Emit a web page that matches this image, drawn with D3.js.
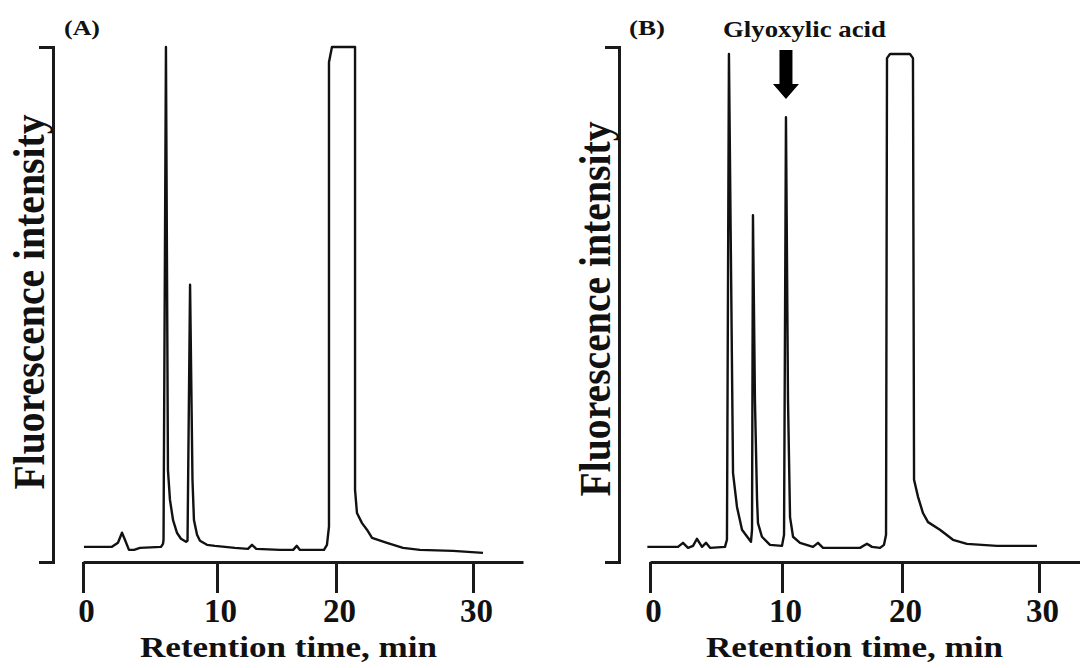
<!DOCTYPE html>
<html><head><meta charset="utf-8">
<script src="https://cdn.jsdelivr.net/npm/d3@7/dist/d3.min.js"></script>
<style>
body{margin:0;background:#fff}
svg{display:block}
text{font-family:"Liberation Serif","Times New Roman",serif;font-weight:bold;fill:#111}
</style>
</head><body>
<svg id="chart" width="1080" height="668"></svg>
<script>
// ---- data ----
const tickLabels = [0, 10, 20, 30];
const panelLabels = ["(A)", "(B)"];
const xTitle = "Retention time, min";
const yTitle = "Fluorescence intensity";
const annotation = "Glyoxylic acid";
const glyoxylicTime = 10.33;

const timeA = [0.07, 2.16, 2.61, 2.91, 3.13, 3.43, 3.81, 4.25, 5.82, 5.97, 6.01, 6.19, 6.34, 6.49, 6.72, 7.01, 7.31, 7.69, 7.80, 7.99, 8.17, 8.28, 8.51, 8.73, 9.25, 9.85, 11.5, 12.6, 12.94, 13.3, 15.3, 16.4, 16.7, 16.97, 18.99, 19.24, 19.41, 19.41, 19.66, 21.39, 21.39, 21.53, 21.9, 22.26, 22.63, 23.72, 24.89, 26.13, 28.54, 30.73];
const intensityA = [1.0, 1.0, 1.8, 3.8, 2.4, 0.4, 0.4, 0.8, 1.0, 1.6, 2.4, 100, 16.2, 10.3, 6.3, 3.8, 2.6, 2.0, 2.2, 52.9, 14.3, 6.3, 3.4, 2.2, 1.4, 1.2, 0.8, 0.6, 1.4, 0.6, 0.4, 0.4, 1.2, 0.4, 0.4, 1.4, 5.0, 97.0, 100, 100, 12.3, 7.7, 5.7, 4.4, 2.8, 1.8, 0.8, 0.4, 0.2, -0.2];

const timeB = [-0.2, 2.12, 2.5, 2.88, 3.26, 3.56, 3.94, 4.24, 4.55, 5.68, 5.83, 5.98, 6.29, 6.59, 6.97, 7.42, 7.65, 7.73, 7.80, 7.95, 8.11, 8.18, 8.48, 9.09, 10.0, 10.17, 10.33, 10.5, 10.67, 10.92, 11.5, 12.58, 13.0, 13.42, 16.5, 17.08, 17.5, 18.17, 18.5, 18.67, 18.75, 19.0, 20.58, 20.8, 20.88, 21.17, 21.53, 21.9, 22.77, 23.72, 24.74, 26.93, 29.85];
const intensityB = [1.0, 1.0, 1.8, 0.8, 1.2, 2.6, 1.0, 1.8, 0.8, 1.0, 2.4, 98.6, 15.6, 8.9, 4.4, 2.8, 2.0, 4.4, 66.7, 30.1, 10.3, 5.7, 3.0, 1.4, 1.2, 3.4, 86.1, 30.1, 6.9, 3.0, 1.8, 1.0, 1.8, 0.8, 0.8, 1.6, 1.0, 0.8, 1.4, 3.4, 97.8, 98.6, 98.6, 97.8, 14.3, 10.9, 7.7, 5.9, 4.4, 2.4, 1.6, 1.2, 1.2];

// ---- layout ----
const svg = d3.select("#chart");
const ink = "#1a1a1a";

const panels = [
  { label: panelLabels[0], time: timeA, val: intensityA,
    xDom: [0, 10, 20, 30, 33.65], xRange: [83, 217, 336, 473, 523],
    yAxisX: 53, labelX: 83, yTitleX: 44, yTitleY: 302, titleCx: 288.5 },
  { label: panelLabels[1], time: timeB, val: intensityB,
    xDom: [0, 10, 20, 30, 34], xRange: [650, 782, 902, 1039, 1094],
    yAxisX: 619, labelX: 648, yTitleX: 610, yTitleY: 309, titleCx: 854.5, arrow: true }
];

panels.forEach(p => {
  const x = d3.scaleLinear().domain(p.xDom).range(p.xRange);
  const y = d3.scaleLinear().domain([-2, 100]).range([562, 47]);

  // y axis bracket
  const ya = svg.append("g").attr("transform", `translate(${p.yAxisX},0)`)
    .call(d3.axisLeft(y).tickValues([]).tickSizeOuter(14));
  ya.select(".domain").attr("stroke", ink).attr("stroke-width", 3).attr("fill", "none");

  // x axis
  const xa = svg.append("g").attr("transform", "translate(0,562)")
    .call(d3.axisBottom(x).tickValues(tickLabels).tickSize(31).tickSizeOuter(0).tickPadding(6));
  xa.select(".domain").attr("stroke", ink).attr("stroke-width", 3);
  xa.selectAll(".tick line").attr("stroke", ink).attr("stroke-width", 3);
  xa.selectAll(".tick text").attr("font-size", 33).attr("fill", "#111")
    .attr("dx", 3)
    .attr("font-family", "'Liberation Serif','Times New Roman',serif").attr("font-weight", "bold");

  // trace
  const pts = p.time.map((t, i) => ({ t, v: p.val[i] }));
  svg.append("path").datum(pts)
    .attr("fill", "none").attr("stroke", "#111").attr("stroke-width", 2.4)
    .attr("stroke-linejoin", "round")
    .attr("d", d3.line().x(d => x(d.t)).y(d => y(d.v)));

  // x title
  svg.append("text").attr("x", p.titleCx).attr("y", 657)
    .attr("text-anchor", "middle").attr("font-size", 30)
    .attr("textLength", 297).attr("lengthAdjust", "spacingAndGlyphs")
    .text(xTitle);

  // y title
  svg.append("text")
    .attr("transform", `translate(${p.yTitleX},${p.yTitleY}) scale(1.17,1) rotate(-90)`)
    .attr("text-anchor", "middle").attr("font-size", 38)
    .attr("textLength", 375).attr("lengthAdjust", "spacingAndGlyphs")
    .text(yTitle);

  // panel label
  svg.append("text").attr("x", p.labelX - 19).attr("y", 35)
    .attr("font-size", 22).attr("textLength", 36).attr("lengthAdjust", "spacingAndGlyphs")
    .text(p.label);

  if (p.arrow) {
    const cx = x(glyoxylicTime);
    const arrowPath = `M${cx - 6.5},50 H${cx + 6.5} V84 H${cx + 13} L${cx},99 L${cx - 13},84 H${cx - 6.5} Z`;
    svg.append("path").attr("d", arrowPath).attr("fill", "#000");
    svg.append("text").attr("x", cx + 18.5).attr("y", 37)
      .attr("text-anchor", "middle").attr("font-size", 23)
      .attr("textLength", 163).attr("lengthAdjust", "spacingAndGlyphs")
      .text(annotation);
  }
});
</script>
</body></html>
